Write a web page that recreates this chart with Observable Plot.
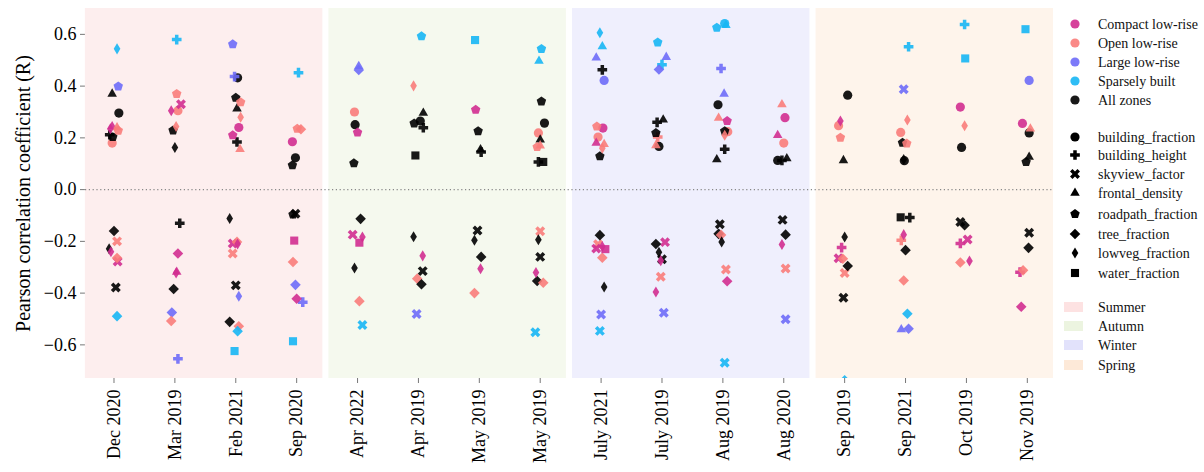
<!DOCTYPE html>
<html><head><meta charset="utf-8">
<script src="https://cdn.jsdelivr.net/npm/d3@7"></script>
<script src="https://cdn.jsdelivr.net/npm/@observablehq/plot@0.6"></script>
<style>
html,body{margin:0;padding:0;background:#fff;}
#wrap{position:relative;width:1204px;height:472px;overflow:hidden;font-family:"Liberation Serif","Times New Roman",serif;}
#chart{position:absolute;left:0;top:0;}
#legend{position:absolute;left:1055px;top:0;}
#chart svg [aria-label="y-axis label"] text, #chart svg [aria-label="y-axis label"]{font-size:20px;}
#chart svg [aria-label="x-axis tick"] path, #chart svg [aria-label="y-axis tick"] path{stroke:#777;}
</style></head><body>
<div id="wrap"><div id="chart"></div><svg id="legend" width="149" height="400"></svg></div>
<script>
// ---------- data ----------
const months = ["Dec 2020","Mar 2019","Feb 2021","Sep 2020","Apr 2022","Apr 2019","May 2019","May 2019",
                "July 2021","July 2019","Aug 2019","Aug 2020","Sep 2019","Sep 2021","Oct 2019","Nov 2019"];
const seasons = ["Summer","Autumn","Winter","Spring"];
const seasonFirst = [0, 4, 8, 12];
const seasonLast  = [3, 7, 11, 15];
const seasonBg     = ["#fdeeee","#f5f9ee","#efeffd","#fef4eb"];
const seasonPatch  = ["#fde2e2","#ecf4e0","#e2e2fb","#fde9d8"];
const zones = ["Compact low-rise","Open low-rise","Large low-rise","Sparsely built","All zones"];
const zoneCodes = ["C","O","L","S","A"];
const zoneColors = ["#d12e90","#f97c7a","#6e6cf8","#17b6f4","#000000"];
const features = ["building_fraction","building_height","skyview_factor","frontal_density",
                  "roadpath_fraction","tree_fraction","lowveg_fraction","water_fraction"];
const featureCodes = ["bf","bh","sv","fd","rp","tf","lv","wf"];
const yTicks = [-0.6,-0.4,-0.2,0,0.2,0.4,0.6];

// [month index, zone, feature, Pearson R, horizontal jitter (category units)]
const summerPoints = [
 [0,"S","lv",0.544,0.05],[0,"L","rp",0.399,0.07],[0,"A","fd",0.37,-0.03],[0,"A","bf",0.296,0.08],
 [0,"C","fd",0.244,-0.03],[0,"C","lv",0.235,-0.06],[0,"O","fd",0.24,0.05],[0,"O","rp",0.228,0.07],
 [0,"A","bh",0.212,-0.07],[0,"A","rp",0.203,-0.02],[0,"O","bf",0.18,-0.03],
 [0,"A","tf",-0.16,0.0],[0,"O","sv",-0.20,0.05],[0,"A","lv",-0.229,-0.08],[0,"C","lv",-0.24,-0.05],
 [0,"O","tf",-0.264,0.05],[0,"C","sv",-0.278,0.06],[0,"A","sv",-0.378,0.03],[0,"S","tf",-0.489,0.05],
 [1,"S","bh",0.58,0.03],[1,"O","rp",0.37,0.03],[1,"C","sv",0.33,0.10],[1,"C","lv",0.305,-0.06],
 [1,"O","bf",0.305,0.05],[1,"O","lv",0.244,0.02],[1,"A","rp",0.229,-0.03],[1,"A","lv",0.163,0.0],
 [1,"A","bh",-0.13,0.08],[1,"C","tf",-0.247,0.05],[1,"C","fd",-0.318,0.03],[1,"C","lv",-0.322,0.02],
 [1,"A","tf",-0.384,-0.02],[1,"L","tf",-0.475,-0.05],[1,"O","tf",-0.508,-0.06],[1,"L","bh",-0.654,0.05],
 [2,"L","rp",0.562,-0.05],[2,"L","bh",0.437,-0.02],[2,"A","bf",0.432,0.03],[2,"A","rp",0.355,0.0],
 [2,"O","rp",0.338,0.08],[2,"A","fd",0.313,0.02],[2,"O","lv",0.28,0.08],[2,"C","bf",0.24,0.05],
 [2,"C","rp",0.21,-0.05],[2,"A","bh",0.184,0.02],[2,"O","fd",0.156,0.07],
 [2,"A","lv",-0.112,-0.10],[2,"O","tf",-0.202,0.02],[2,"C","sv",-0.208,-0.05],[2,"C","lv",-0.21,0.03],
 [2,"O","sv",-0.247,-0.05],[2,"A","sv",-0.37,0.0],[2,"L","lv",-0.412,0.05],[2,"A","tf",-0.511,-0.10],
 [2,"O","tf",-0.528,0.05],[2,"S","tf",-0.547,0.03],[2,"S","wf",-0.624,-0.02],
 [3,"S","bh",0.452,0.03],[3,"O","rp",0.235,0.01],[3,"O","tf",0.233,0.07],[3,"C","bf",0.185,-0.07],
 [3,"A","bf",0.123,-0.02],[3,"A","rp",0.094,-0.07],
 [3,"A","sv",-0.093,-0.02],[3,"A","rp",-0.096,-0.06],[3,"C","wf",-0.197,-0.04],[3,"O","tf",-0.28,-0.06],
 [3,"L","tf",-0.368,-0.02],[3,"C","tf",-0.422,0.0],[3,"L","bh",-0.435,0.10],[3,"S","wf",-0.586,-0.06]
];
const autumnPoints = [
 [4,"L","fd",0.477,0.02],[4,"L","tf",0.462,0.02],[4,"O","bf",0.30,-0.05],[4,"A","bf",0.251,-0.04],
 [4,"C","rp",0.221,0.0],[4,"A","rp",0.102,-0.06],
 [4,"A","tf",-0.113,0.05],[4,"C","sv",-0.174,-0.08],[4,"C","lv",-0.183,0.08],[4,"C","wf",-0.205,0.03],
 [4,"A","lv",-0.303,-0.05],[4,"O","tf",-0.431,0.03],[4,"S","sv",-0.523,0.08],
 [5,"S","rp",0.593,0.05],[5,"O","lv",0.401,-0.08],[5,"A","fd",0.296,0.08],[5,"A","rp",0.256,-0.07],
 [5,"A","bf",0.265,0.03],[5,"A","bh",0.239,0.08],[5,"A","wf",0.132,-0.05],
 [5,"A","lv",-0.182,-0.08],[5,"C","lv",-0.256,0.07],[5,"A","sv",-0.315,0.07],[5,"O","tf",-0.344,-0.02],
 [5,"A","tf",-0.366,0.05],[5,"L","sv",-0.481,-0.03],
 [6,"S","wf",0.578,-0.07],[6,"C","rp",0.309,-0.06],[6,"A","rp",0.226,-0.02],[6,"A","fd",0.155,0.02],
 [6,"A","bh",0.145,0.03],
 [6,"A","sv",-0.158,-0.03],[6,"A","lv",-0.196,-0.08],[6,"A","tf",-0.26,0.03],[6,"C","lv",-0.306,0.02],
 [6,"O","tf",-0.40,-0.08],
 [7,"S","rp",0.544,0.02],[7,"S","fd",0.497,-0.02],[7,"A","rp",0.341,0.02],[7,"A","bf",0.257,0.07],
 [7,"O","bf",0.219,-0.03],[7,"A","fd",0.193,0.0],[7,"O","rp",0.165,-0.05],[7,"O","fd",0.17,0.0],
 [7,"A","bh",0.107,-0.03],[7,"A","wf",0.107,0.05],
 [7,"O","sv",-0.161,0.0],[7,"A","lv",-0.194,-0.03],[7,"A","sv",-0.26,0.0],[7,"C","lv",-0.32,-0.07],
 [7,"A","tf",-0.353,-0.05],[7,"O","tf",-0.36,0.05],[7,"S","sv",-0.551,-0.08]
];
const winterPoints = [
 [8,"S","lv",0.606,-0.02],[8,"S","fd",0.553,0.02],[8,"L","fd",0.51,-0.08],[8,"A","bh",0.463,0.02],
 [8,"L","bf",0.422,0.05],[8,"O","rp",0.244,-0.07],[8,"C","bf",0.238,0.03],[8,"O","bf",0.203,-0.05],
 [8,"C","fd",0.18,-0.08],[8,"O","fd",0.175,0.05],[8,"O","lv",0.16,0.02],[8,"A","rp",0.129,-0.02],
 [8,"A","tf",-0.176,-0.02],[8,"O","sv",-0.211,-0.05],[8,"C","sv",-0.228,-0.08],[8,"C","lv",-0.22,0.02],
 [8,"C","wf",-0.23,0.07],[8,"O","tf",-0.263,0.02],[8,"A","lv",-0.376,0.05],[8,"L","sv",-0.483,0.0],
 [8,"S","sv",-0.546,-0.02],
 [9,"S","rp",0.569,-0.07],[9,"L","fd",0.512,0.07],[9,"S","bh",0.483,0.0],[9,"L","tf",0.464,-0.05],
 [9,"A","bh",0.26,-0.08],[9,"A","fd",0.27,0.02],[9,"A","rp",0.219,-0.10],[9,"O","bh",0.203,-0.07],
 [9,"O","fd",0.171,-0.10],[9,"A","bf",0.167,-0.05],
 [9,"A","tf",-0.21,-0.10],[9,"C","sv",-0.203,0.05],[9,"A","lv",-0.242,-0.05],[9,"A","sv",-0.269,0.0],
 [9,"C","lv",-0.275,-0.02],[9,"O","sv",-0.337,-0.02],[9,"C","lv",-0.396,-0.10],[9,"L","sv",-0.476,0.03],
 [10,"S","rp",0.626,-0.10],[10,"S","bf",0.642,0.03],[10,"S","fd",0.635,0.05],[10,"L","bh",0.468,-0.03],
 [10,"L","fd",0.37,0.02],[10,"A","bf",0.328,-0.08],[10,"O","fd",0.277,-0.07],[10,"C","rp",0.265,0.07],
 [10,"A","rp",0.226,0.03],[10,"O","bf",0.224,0.08],[10,"O","lv",0.21,0.03],[10,"A","bh",0.156,0.03],
 [10,"A","fd",0.116,-0.10],
 [10,"A","sv",-0.134,-0.05],[10,"A","tf",-0.171,-0.07],[10,"O","tf",-0.175,-0.03],[10,"A","lv",-0.202,-0.02],
 [10,"O","sv",-0.309,0.05],[10,"C","tf",-0.354,0.07],[10,"S","sv",-0.669,0.03],
 [11,"O","fd",0.329,-0.03],[11,"C","bf",0.278,0.02],[11,"C","fd",0.21,-0.10],[11,"O","bf",0.18,0.0],
 [11,"A","bf",0.113,-0.10],[11,"A","bh",0.113,-0.03],[11,"A","fd",0.12,0.05],
 [11,"A","sv",-0.117,-0.02],[11,"A","tf",-0.174,0.03],[11,"C","lv",-0.212,-0.03],[11,"O","sv",-0.305,0.03],
 [11,"L","sv",-0.501,0.03]
];
const springPoints = [
 [12,"A","bf",0.365,0.05],[12,"C","lv",0.265,-0.07],[12,"O","bf",0.247,-0.10],[12,"O","rp",0.201,-0.07],
 [12,"A","fd",0.113,-0.02],
 [12,"A","lv",-0.183,0.0],[12,"C","bh",-0.224,-0.05],[12,"C","sv",-0.265,-0.10],[12,"O","tf",-0.267,-0.03],
 [12,"A","tf",-0.295,0.05],[12,"O","sv",-0.322,0.0],[12,"A","sv",-0.418,-0.02],[12,"S","tf",-0.737,0.0],
 [13,"S","bh",0.552,0.05],[13,"L","sv",0.388,-0.03],[13,"O","lv",0.269,0.03],[13,"O","bf",0.221,-0.08],
 [13,"A","rp",0.181,-0.05],[13,"O","rp",0.178,0.02],[13,"A","lv",0.116,-0.03],[13,"A","bf",0.112,-0.02],
 [13,"A","wf",-0.107,-0.08],[13,"A","bh",-0.108,0.07],[13,"C","lv",-0.174,-0.03],[13,"O","bh",-0.196,-0.07],
 [13,"A","tf",-0.234,0.0],[13,"O","tf",-0.351,-0.03],[13,"S","tf",-0.48,0.03],[13,"L","fd",-0.541,-0.07],
 [13,"L","tf",-0.538,0.05],
 [14,"S","bh",0.638,-0.03],[14,"S","wf",0.507,-0.02],[14,"C","bf",0.319,-0.10],[14,"O","lv",0.247,-0.03],
 [14,"A","bf",0.163,-0.08],
 [14,"A","sv",-0.125,-0.10],[14,"A","tf",-0.138,-0.03],[14,"C","sv",-0.193,0.02],[14,"C","bh",-0.208,-0.10],
 [14,"O","tf",-0.282,-0.10],[14,"C","lv",-0.276,0.05],
 [15,"S","wf",0.62,-0.03],[15,"L","bf",0.422,0.03],[15,"C","bf",0.256,-0.08],[15,"O","fd",0.235,0.05],
 [15,"A","bf",0.219,0.03],[15,"A","rp",0.107,-0.02],[15,"A","fd",0.126,0.03],
 [15,"A","sv",-0.167,0.03],[15,"A","tf",-0.225,0.02],[15,"C","bh",-0.319,-0.12],[15,"O","tf",-0.312,-0.07],
 [15,"C","tf",-0.453,-0.10]
];

// ---------- symbols (matplotlib-like markers) ----------
function poly(c, pts){ c.moveTo(pts[0][0], pts[0][1]); for (let i = 1; i < pts.length; i++) c.lineTo(pts[i][0], pts[i][1]); c.closePath(); }
const mk = f => ({draw(c, size){ const r = Math.sqrt(size / Math.PI); f(c, r); }});
const plusPts = (a, t) => [[-t,-a],[t,-a],[t,-t],[a,-t],[a,t],[t,t],[t,a],[-t,a],[-t,t],[-a,t],[-a,-t],[-t,-t]];
const rot45 = pts => pts.map(([x,y]) => [(x - y) * Math.SQRT1_2, (x + y) * Math.SQRT1_2]);
const SYM = {
  bf: mk((c,r) => { c.moveTo(r,0); c.arc(0,0,r,0,2*Math.PI); }),
  bh: mk((c,r) => poly(c, plusPts(1.05*r, 0.38*r))),
  sv: mk((c,r) => poly(c, rot45(plusPts(1.15*r, 0.38*r)))),
  fd: mk((c,r) => { const R = 1.2*r; poly(c, [[0,-R],[R*0.866,R*0.5],[-R*0.866,R*0.5]]); }),
  rp: mk((c,r) => { const R = 1.08*r; poly(c, d3.range(5).map(k => { const a = -Math.PI/2 + k*2*Math.PI/5; return [R*Math.cos(a), R*Math.sin(a)]; })); }),
  tf: mk((c,r) => { const a = 1.15*r; poly(c, [[0,-a],[a,0],[0,a],[-a,0]]); }),
  lv: mk((c,r) => { const h = 1.2*r, w = 0.72*r; poly(c, [[0,-h],[w,0],[0,h],[-w,0]]); }),
  wf: mk((c,r) => { const s = 0.88*r; poly(c, [[-s,-s],[s,-s],[s,s],[-s,s]]); })
};

// ---------- table ----------
const points = [...summerPoints, ...autumnPoints, ...winterPoints, ...springPoints].map(([m, z, f, r, j]) => ({
  m, xpos: m + j, r, zone: zones[zoneCodes.indexOf(z)], f
}));
const spans = seasons.map((s, i) => ({season: s, x1: seasonFirst[i] - 0.47, x2: seasonLast[i] + 0.43, color: seasonBg[i]}));

const fmt = d => d === 0 ? "0.0" : (d < 0 ? "\u2212" : "") + Math.abs(d).toFixed(1);
const yLabel = "Pearson correlation coefficient (R)";

const chart = Plot.plot({
  width: 1060, height: 472,
  marginLeft: 85, marginRight: 7, marginTop: 8, marginBottom: 94,
  style: {fontFamily: "'Liberation Serif','Times New Roman',serif", fontSize: "18px", background: "transparent", color: "#000", overflow: "visible"},
  x: {type: "linear", domain: [-0.468, 15.43], ticks: d3.range(months.length), tickFormat: i => months[i],
      tickRotate: -90, tickSize: 5, tickPadding: 6, label: null},
  y: {domain: [-0.73, 0.70], ticks: yTicks, tickFormat: fmt, tickSize: 5, tickPadding: 4,
      label: yLabel, labelArrow: "none", labelAnchor: "center", labelOffset: 70},
  color: {domain: zones, range: zoneColors},
  marks: [
    ...spans.map(s => Plot.rect([s], {x1: "x1", x2: "x2", fill: s.color})),
    Plot.ruleY([0], {stroke: "#888", strokeDasharray: "1.2,2.6", strokeWidth: 1.2}),
    ...featureCodes.map(fc => Plot.dot(points.filter(d => d.f === fc), {
      x: "xpos", y: "r", fill: "zone", r: 4.6, symbol: SYM[fc], fillOpacity: 0.9, clip: true
    }))
  ]
});
// make sure no arrow is appended to the axis label
d3.select(chart).selectAll("text").each(function(){
  const t = this.textContent;
  if (t.includes("Pearson")) this.textContent = yLabel;
});
document.getElementById("chart").appendChild(chart);

// ---------- legend ----------
const lg = d3.select("#legend");
const rowsZ = [24, 43, 62, 81, 100];
const rowsF = [137, 155, 174, 193, 214, 234, 253, 273];
const rowsS = [307, 326, 345, 365];
const addText = (y, t) => lg.append("text").attr("x", 43).attr("y", y).attr("dy", "0.35em")
  .attr("font-family", "'Liberation Serif','Times New Roman',serif").attr("font-size", 14).attr("fill", "#111").text(t);
zones.forEach((z, i) => {
  lg.append("path").attr("transform", `translate(20,${rowsZ[i]})`).attr("d", d3.symbol(SYM.bf, Math.PI * 4.6 * 4.6)()).attr("fill", zoneColors[i]).attr("fill-opacity", 0.9);
  addText(rowsZ[i], z);
});
features.forEach((f, i) => {
  lg.append("path").attr("transform", `translate(20,${rowsF[i]})`).attr("d", d3.symbol(SYM[featureCodes[i]], Math.PI * 4.6 * 4.6)()).attr("fill", "#000");
  addText(rowsF[i], f);
});
seasons.forEach((s, i) => {
  lg.append("rect").attr("x", 9).attr("y", rowsS[i] - 5).attr("width", 19).attr("height", 10).attr("fill", seasonPatch[i]);
  addText(rowsS[i], s);
});
</script></body></html>
